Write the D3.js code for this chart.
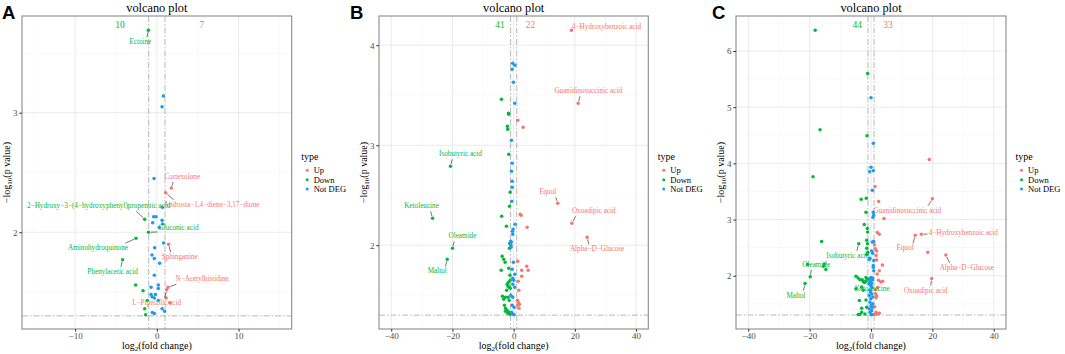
<!DOCTYPE html>
<html>
<head>
<meta charset="utf-8">
<script src="https://cdn.jsdelivr.net/npm/d3@7"></script>
<style>
  body { margin: 0; background: #fff; }
  svg text { font-family: "Liberation Serif", "Times New Roman", serif; }
</style>
</head>
<body>
<svg id="chart" width="1065" height="354"></svg>
<script>
// Each point: [log2 fold change, -log10 p value, optional label]

// ---- panel A ----
const aUp = [
  [1.77, 2.37, 'Cortexolone'],
  [1.08, 2.33, 'Androsta−1,4−diene−3,17−dione'],
  [1.44, 1.90, 'Sphinganine'],
  [1.37, 1.54, 'N−Acetylhistidine'],
  [1.20, 1.52, 'L−Pipecolic acid'],
  [1.13, 1.45],
  [1.57, 1.41]
];
const aDown = [
  [-1.04, 3.69, 'Ectoine'],
  [-1.49, 2.11, '2−Hydroxy−3−(4−hydroxyphenyl)propenoic acid'],
  [-1.02, 2.00, 'Gluconic acid'],
  [-2.55, 1.95, 'Aminohydroquinone'],
  [-4.19, 1.77, 'Phenylacetic acid'],
  [-2.59, 1.56],
  [-1.69, 1.51],
  [-1.16, 1.43],
  [-1.49, 1.36],
  [-1.37, 1.31]
];
const aNotDeg = [
  [-0.34, 2.45], [0.80, 3.14], [0.64, 3.05], [0.67, 2.21], [-0.39, 2.13],
  [-0.10, 2.13], [-0.51, 2.08], [0.64, 2.10], [0.71, 2.07], [0.31, 2.04],
  [0.83, 1.91], [-0.27, 1.87], [-0.59, 1.81], [-0.31, 1.78], [0.34, 1.74],
  [-0.31, 1.64], [-0.71, 1.54], [0.18, 1.56], [0.18, 1.53], [-0.71, 1.48],
  [-0.59, 1.46], [-0.31, 1.45], [-0.18, 1.48], [0.18, 1.43], [0.64, 1.36],
  [-0.55, 1.33], [-0.31, 1.32], [0.95, 1.34]
];

// ---- panel B ----
const bUp = [
  [18.9, 4.15, '4−Hydroxybenzoic acid'],
  [21.1, 3.42, 'Guanidinosuccinic acid'],
  [1.34, 3.25], [3.10, 3.18],
  [14.4, 2.42, 'Equol'],
  [19.0, 2.22, 'Oxoadipic acid'],
  [24.0, 2.08, 'Alpha−D−Glucose'],
  [2.12, 2.31], [2.45, 2.30], [4.41, 2.18], [1.34, 1.84], [4.28, 1.79],
  [2.65, 1.75], [4.74, 1.75], [2.65, 1.69], [1.47, 1.64], [1.67, 1.55],
  [1.24, 1.45], [1.90, 1.41], [1.34, 1.40], [1.47, 1.43], [1.75, 1.37]
];
const bDown = [
  [-20.65, 2.79, 'Isobutyric acid'],
  [-4.00, 3.46], [-1.60, 3.31], [-1.70, 3.32], [-2.03, 3.19], [-1.93, 3.16],
  [-1.60, 2.91],
  [-26.5, 2.27, 'Ketoleucine'],
  [-20.0, 1.97, 'Oleamide'],
  [-21.7, 1.86, 'Maltol'],
  [-1.14, 2.53], [-1.37, 2.39], [-3.90, 2.29], [-2.35, 2.19], [-1.37, 1.97],
  [-3.76, 1.89], [-3.24, 1.86], [-2.78, 1.83], [-4.08, 1.75], [-1.60, 1.77],
  [-1.14, 1.65], [-1.70, 1.63], [-2.12, 1.61], [-1.47, 1.58], [-1.10, 1.57],
  [-1.80, 1.59], [-3.66, 1.49], [-2.68, 1.48], [-1.80, 1.48], [-1.47, 1.45],
  [-3.24, 1.46], [-2.68, 1.37], [-2.12, 1.35], [-2.68, 1.34], [-1.37, 1.33],
  [-1.93, 1.32], [-1.14, 1.31], [-1.30, 2.02], [-2.30, 1.55], [-1.20, 1.70],
  [-3.00, 1.40]
];
const bNotDeg = [
  [-0.30, 3.82], [0.36, 3.80], [-0.49, 3.76], [-0.07, 3.63], [0.36, 3.42],
  [-0.72, 3.05], [-0.49, 2.82], [-0.72, 2.74], [-0.49, 2.64], [-0.49, 2.58],
  [-0.62, 2.44], [0.49, 2.21], [-0.16, 2.16], [-0.39, 2.14], [-0.29, 2.11],
  [-0.95, 2.04], [-0.80, 2.03], [-0.90, 2.00], [-0.85, 1.98], [-0.07, 1.83],
  [-0.49, 1.76], [0.36, 1.71], [-0.29, 1.67], [0.03, 1.65], [-0.29, 1.61],
  [0.36, 1.58], [-0.90, 1.50], [-0.29, 1.48], [-0.49, 1.40], [0.16, 1.38],
  [-0.72, 1.33], [-0.16, 1.31], [0.16, 1.305]
];

// ---- panel C ----
const cUp = [
  [19.0, 4.07], [1.30, 3.59], [2.50, 3.32],
  [20.0, 3.37, 'Guanidinosuccinic acid'],
  [4.25, 3.02], [2.06, 2.77], [2.70, 2.74],
  [16.4, 2.74, '4−Hydroxybenzoic acid'],
  [14.4, 2.72, 'Equol'],
  [1.40, 2.48], [1.85, 2.44], [18.5, 2.42],
  [24.4, 2.37, 'Alpha−D−Glucose'],
  [1.63, 2.36], [1.85, 2.28], [3.70, 2.19], [2.70, 2.09],
  [19.8, 1.95, 'Oxoadipic acid'],
  [2.40, 1.92], [3.20, 1.89], [3.80, 1.90], [2.20, 1.79], [1.52, 1.68],
  [1.85, 1.64], [1.63, 1.61], [1.63, 1.35], [2.20, 1.32], [2.70, 1.33],
  [1.30, 1.31], [1.10, 2.55], [2.00, 2.03], [1.30, 1.75], [1.20, 1.45]
];
const cDown = [
  [-18.2, 6.37], [-1.10, 5.60], [-16.6, 4.60], [-1.30, 4.49], [-18.9, 3.76],
  [-3.20, 3.36], [-1.53, 3.38], [-1.63, 3.13], [-2.20, 2.91], [-1.20, 2.84],
  [-1.10, 2.78], [-16.1, 2.61],
  [-4.00, 2.57, 'Isobutyric acid'],
  [-1.40, 2.63], [-1.15, 2.57], [-1.40, 2.49], [-1.05, 2.42], [-1.40, 2.38],
  [-20.7, 2.20], [-15.2, 2.21], [-15.5, 2.17], [-14.7, 2.11],
  [-19.8, 1.98, 'Oleamide'],
  [-21.5, 1.86, 'Maltol'],
  [-2.90, 1.93, 'Ketoleucine'],
  [-4.90, 1.99], [-4.20, 1.96], [-3.60, 1.93], [-2.50, 1.90], [-1.96, 1.88],
  [-1.40, 1.92], [-1.63, 1.97], [-1.10, 1.94], [-4.90, 1.77], [-3.05, 1.80],
  [-2.50, 1.74], [-3.80, 1.56], [-3.05, 1.42], [-1.63, 1.57], [-1.40, 1.44],
  [-3.05, 1.35], [-1.96, 1.32], [-4.15, 1.31], [-3.60, 1.31]
];
const cNotDeg = [
  [0.00, 5.17], [0.76, 4.36], [0.00, 3.93], [-0.43, 3.85], [0.76, 3.87],
  [0.43, 3.52], [0.76, 3.13], [0.90, 3.08], [0.65, 3.04], [0.43, 2.60],
  [0.90, 2.61], [0.22, 2.44], [0.55, 2.40], [-0.33, 2.31], [-0.55, 2.29],
  [0.90, 2.27], [0.76, 2.18], [0.76, 2.15], [0.90, 2.09], [0.00, 1.97],
  [0.55, 1.96], [-0.33, 1.95], [0.00, 1.92], [-0.33, 1.89], [0.22, 1.86],
  [-0.10, 1.83], [0.55, 1.93], [-0.65, 1.86], [-0.33, 1.74], [0.22, 1.68],
  [-0.55, 1.65], [-0.10, 1.59], [0.55, 1.62], [-0.33, 1.53], [0.00, 1.47],
  [-0.55, 1.41], [0.22, 1.38], [-0.33, 1.35], [0.43, 1.44], [0.00, 1.305],
  [0.43, 1.31], [0.30, 1.79], [-0.20, 1.71], [0.60, 1.50]
];

const xLimits = [15, 40, 40];
const aXTicks = [-10, 0, 10];
const bcXTicks = [-40, -20, 0, 20, 40];
const aYTicks = [2, 3];
const bYTicks = [2, 3, 4];
const cYTicks = [2, 3, 4, 5, 6];
const countX = [-4.5, 5.5];        // where the Down / Up counts are written
const fcCut = 1;                   // |log2 FC| cut-off
const pCut = 0.05;

const typeNames = ['Up', 'Down', 'Not DEG'];
const typeColors = ['#F8766D', '#00BA38', '#1A9BF0'];

const panelData = [
  { up: aUp, down: aDown, notDeg: aNotDeg, xLimit: xLimits[0], xTicks: aXTicks, yTicks: aYTicks },
  { up: bUp, down: bDown, notDeg: bNotDeg, xLimit: xLimits[1], xTicks: bcXTicks, yTicks: bYTicks },
  { up: cUp, down: cDown, notDeg: cNotDeg, xLimit: xLimits[2], xTicks: bcXTicks, yTicks: cYTicks }
];

// ---- layout (pixels) ----
const plotTop = 16, plotBottom = 329;
const serif = '"Liberation Serif", "Times New Roman", serif';
const layout = [
  { letter: 'A', letterX: 2, left: 22, right: 291.7,
    nudge: { 'Ectoine': [-8, 12], 'Cortexolone': [11, -11], 'Androsta−1,4−diene−3,17−dione': [46, 12],
             '2−Hydroxy−3−(4−hydroxyphenyl)propenoic acid': [-46, -13], 'Gluconic acid': [30, -4],
             'Aminohydroquinone': [-38, 10], 'Sphinganine': [11, 13], 'Phenylacetic acid': [-10, 12],
             'N−Acetylhistidine': [34, -8], 'L−Pipecolic acid': [-10, 13] } },
  { letter: 'B', letterX: 350, left: 379, right: 648.3,
    nudge: { '4−Hydroxybenzoic acid': [35, -3], 'Guanidinosuccinic acid': [10, -12], 'Isobutyric acid': [10, -12],
             'Equol': [-10, -11], 'Oxoadipic acid': [22, -12], 'Alpha−D−Glucose': [10, 12],
             'Ketoleucine': [-11, -12], 'Oleamide': [10, -12], 'Maltol': [-10, 12] } },
  { letter: 'C', letterX: 712, left: 736, right: 1006,
    nudge: { 'Guanidinosuccinic acid': [-25, 12], '4−Hydroxybenzoic acid': [42, -1], 'Equol': [-10, 13],
             'Alpha−D−Glucose': [21, 13], 'Isobutyric acid': [-11, 12], 'Oleamide': [6, -12],
             'Maltol': [-9, 12], 'Ketoleucine': [10, 9], 'Oxoadipic acid': [-6, 12] } }
];

const svg = d3.select('#chart');
svg.append('rect').attr('width', 1065).attr('height', 354).attr('fill', '#fff');

// ggplot style minor breaks: halfway between majors, kept inside the domain
function minorBreaks(ticks, domain) {
  const step = ticks[1] - ticks[0];
  const out = [];
  for (let v = ticks[0] - step * 10.5; v < domain[1]; v += step) {
    if (v > domain[0]) out.push(v);
  }
  return out;
}

// segment from the point towards the label box (mix of nearest edge point and centre line)
function segmentTo(px, py, box) {
  const cx = box.x + box.width / 2, cy = box.y + box.height / 2;
  const dx = px - cx, dy = py - cy;
  const hw = box.width / 2 + 1, hh = box.height / 2 + 1;
  const tx = dx !== 0 ? hw / Math.abs(dx) : Infinity;
  const ty = dy !== 0 ? hh / Math.abs(dy) : Infinity;
  const t = Math.min(tx, ty);
  if (t >= 1) return null;
  const lx = cx + dx * t, ly = cy + dy * t;
  const nx = Math.max(cx - hw, Math.min(cx + hw, px));
  const ny = Math.max(cy - hh, Math.min(cy + hh, py));
  const ex = nx * 0.7 + lx * 0.3, ey = ny * 0.7 + ly * 0.3;
  const len = Math.hypot(px - ex, py - ey);
  if (len < 4) return null;
  const sx = px + (ex - px) * 2.2 / len, sy = py + (ey - py) * 2.2 / len;
  return [sx, sy, ex, ey];
}

function drawPanel(data, lay) {
  const g = svg.append('g');
  const all = data.up.concat(data.down, data.notDeg);
  const yExt = d3.extent(all, d => d[1]);
  const pad = (yExt[1] - yExt[0]) * 0.05;

  const x = d3.scaleLinear()
    .domain([-data.xLimit * 1.1, data.xLimit * 1.1])
    .range([lay.left, lay.right]);
  const y = d3.scaleLinear()
    .domain([yExt[0] - pad, yExt[1] + pad])
    .range([plotBottom, plotTop]);

  // grid
  const grid = g.append('g');
  grid.selectAll('.vminor').data(minorBreaks(data.xTicks, x.domain())).join('line')
    .attr('x1', d => x(d)).attr('x2', d => x(d)).attr('y1', plotTop).attr('y2', plotBottom)
    .attr('stroke', '#f2f2f2').attr('stroke-width', 0.5);
  grid.selectAll('.hminor').data(minorBreaks(data.yTicks, y.domain())).join('line')
    .attr('y1', d => y(d)).attr('y2', d => y(d)).attr('x1', lay.left).attr('x2', lay.right)
    .attr('stroke', '#f2f2f2').attr('stroke-width', 0.5);
  grid.selectAll('.vmajor').data(data.xTicks).join('line')
    .attr('x1', d => x(d)).attr('x2', d => x(d)).attr('y1', plotTop).attr('y2', plotBottom)
    .attr('stroke', '#e8e8e8').attr('stroke-width', 0.9);
  grid.selectAll('.hmajor').data(data.yTicks).join('line')
    .attr('y1', d => y(d)).attr('y2', d => y(d)).attr('x1', lay.left).attr('x2', lay.right)
    .attr('stroke', '#e8e8e8').attr('stroke-width', 0.9);

  // cut-off lines
  const dash = '6,2,1.5,2';
  g.selectAll('.vcut').data([-fcCut, fcCut]).join('line')
    .attr('x1', d => x(d)).attr('x2', d => x(d)).attr('y1', plotTop).attr('y2', plotBottom)
    .attr('stroke', '#a6a6a6').attr('stroke-width', 0.8).attr('stroke-dasharray', dash);
  g.append('line')
    .attr('x1', lay.left).attr('x2', lay.right)
    .attr('y1', y(-Math.log10(pCut))).attr('y2', y(-Math.log10(pCut)))
    .attr('stroke', '#a6a6a6').attr('stroke-width', 0.8).attr('stroke-dasharray', dash);

  // points
  const groups = [data.up, data.down, data.notDeg];
  groups.forEach((pts, i) => {
    g.append('g').selectAll('circle').data(pts).join('circle')
      .attr('cx', d => x(d[0])).attr('cy', d => y(d[1])).attr('r', 1.75)
      .attr('fill', typeColors[i]);
  });

  // repelled labels
  groups.forEach((pts, i) => {
    pts.filter(d => d[2]).forEach(d => {
      const px = x(d[0]), py = y(d[1]);
      const off = lay.nudge[d[2]] || [0, -10];
      const t = g.append('text')
        .attr('x', px + off[0]).attr('y', py + off[1])
        .attr('text-anchor', 'middle').attr('dominant-baseline', 'central')
        .attr('font-size', 7.2).attr('fill', typeColors[i])
        .text(d[2]);
      const seg = segmentTo(px, py, t.node().getBBox());
      if (seg) {
        g.append('line')
          .attr('x1', seg[0]).attr('y1', seg[1]).attr('x2', seg[2]).attr('y2', seg[3])
          .attr('stroke', '#1a1a1a').attr('stroke-width', 0.6);
      }
    });
  });

  // Down / Up counts
  g.selectAll('.count').data([data.down.length, data.up.length]).join('text')
    .attr('x', (d, i) => x(countX[i])).attr('y', plotTop + 9)
    .attr('text-anchor', 'middle').attr('dominant-baseline', 'central')
    .attr('font-size', 9.5).attr('fill', (d, i) => typeColors[1 - i])
    .text(d => d);

  // border
  g.append('rect')
    .attr('x', lay.left).attr('y', plotTop)
    .attr('width', lay.right - lay.left).attr('height', plotBottom - plotTop)
    .attr('fill', 'none').attr('stroke', '#8a8a8a').attr('stroke-width', 1.1);

  // axes
  const styleAxis = a => {
    a.select('.domain').remove();
    a.selectAll('line').attr('stroke', '#333');
    a.selectAll('text').attr('fill', '#4d4d4d').attr('font-size', 9)
      .style('font-family', serif);
  };
  g.append('g').attr('transform', `translate(0,${plotBottom})`)
    .call(d3.axisBottom(x).tickValues(data.xTicks).tickSize(2.7).tickPadding(0.6)
      .tickFormat(d3.format('d')))
    .call(styleAxis);
  g.append('g').attr('transform', `translate(${lay.left},0)`)
    .call(d3.axisLeft(y).tickValues(data.yTicks).tickSize(2.7).tickPadding(1.8)
      .tickFormat(d3.format('d')))
    .call(styleAxis);

  const midX = (lay.left + lay.right) / 2;

  // title
  g.append('text').attr('x', midX).attr('y', 11.5)
    .attr('text-anchor', 'middle').attr('font-size', 12.3).attr('fill', '#000')
    .text('volcano plot');

  // x title
  const xt = g.append('text').attr('x', midX).attr('y', 349)
    .attr('text-anchor', 'middle').attr('font-size', 10).attr('fill', '#000');
  xt.append('tspan').text('log');
  xt.append('tspan').attr('font-size', 7).attr('dy', 2.2).text('2');
  xt.append('tspan').attr('dy', -2.2).text('(fold change)');

  // y title
  const yt = g.append('text')
    .attr('transform', `translate(${lay.left - 12.5},${(plotTop + plotBottom) / 2}) rotate(-90)`)
    .attr('text-anchor', 'middle').attr('font-size', 10).attr('fill', '#000');
  yt.append('tspan').text('−log');
  yt.append('tspan').attr('font-size', 7).attr('dy', 2.2).text('10');
  yt.append('tspan').attr('dy', -2.2).text('(p value)');

  // legend
  const lg = g.append('g').attr('transform', `translate(${lay.right + 9.5},0)`);
  lg.append('text').attr('x', 0).attr('y', 159.5).attr('font-size', 10).text('type');
  typeNames.forEach((name, i) => {
    const ly = 170.3 + i * 9.4;
    lg.append('circle').attr('cx', 6).attr('cy', ly).attr('r', 1.5).attr('fill', typeColors[i]);
    lg.append('text').attr('x', 12.5).attr('y', ly)
      .attr('dominant-baseline', 'central').attr('font-size', 8.5).text(name);
  });

  // panel letter
  svg.append('text').attr('x', lay.letterX).attr('y', 18.5)
    .style('font-family', '"Liberation Sans", Arial, sans-serif')
    .attr('font-weight', 'bold').attr('font-size', 18.5).text(lay.letter);
}

panelData.forEach((d, i) => drawPanel(d, layout[i]));
</script>
</body>
</html>
